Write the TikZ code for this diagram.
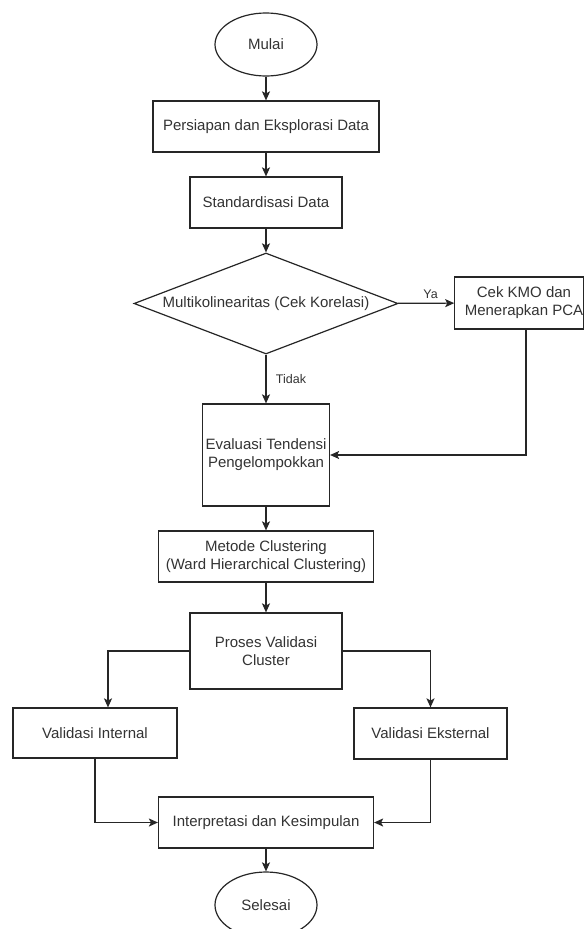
\documentclass[tikz,border=0pt]{standalone}
\usepackage{fontspec}
\setmainfont{Liberation Sans}
\usetikzlibrary{shapes.geometric,arrows.meta}
\begin{document}
\begin{tikzpicture}[x=1pt,y=-1pt,
  every node/.style={font=\fontsize{15}{18}\selectfont, text=black!80},
  box/.style={draw=black!85, line width=1.2pt, rectangle, align=center, inner sep=0pt},
  term/.style={draw=black!85, line width=1.2pt, ellipse, inner sep=0pt, minimum width=102pt, minimum height=63pt},
  dec/.style={draw=black!85, line width=1.2pt, diamond, aspect=2.6, inner sep=0pt, minimum width=264pt, minimum height=101pt},
  conn/.style={draw=black!85, line width=1.2pt, -{Stealth[length=9pt,width=8pt,inset=2pt]}},
  lbl/.style={font=\fontsize{12.5}{15}\selectfont}
]
\useasboundingbox (0,0) rectangle (584,929);
\clip (0,0) rectangle (584,929);
\fill[white] (0,0) rectangle (584,929);

\node[term] (mulai) at (266,44.5) {Mulai};
\node[box, minimum width=226pt, minimum height=51pt] (prep) at (266,126.5) {Persiapan dan Eksplorasi Data};
\node[box, minimum width=152pt, minimum height=51pt] (std) at (266,202.5) {Standardisasi Data};
\node[dec] (multi) at (266,303.5) {Multikolinearitas (Cek Korelasi)};
\node[box, minimum width=128pt, minimum height=52pt] (pca) at (519,303) {\hspace*{10pt}Cek KMO dan\\\hspace*{10pt}Menerapkan PCA};
\node[box, minimum width=127pt, minimum height=102pt] (eval) at (266,455) {Evaluasi Tendensi\\Pengelompokkan};
\node[box, minimum width=215pt, minimum height=51pt] (metode) at (266,556.5) {Metode Clustering\\(Ward Hierarchical Clustering)};
\node[box, minimum width=152pt, minimum height=76pt] (proses) at (266,651) {Proses Validasi\\Cluster};
\node[box, minimum width=164pt, minimum height=50pt] (intern) at (95,733) {Validasi Internal};
\node[box, minimum width=153pt, minimum height=51pt] (ekstern) at (430.5,733.5) {Validasi Eksternal};
\node[box, minimum width=215pt, minimum height=51pt] (interp) at (266,822.5) {Interpretasi dan Kesimpulan};
\node[term, minimum height=66pt] (selesai) at (266,905) {Selesai};

\draw[conn] (mulai) -- (prep);
\draw[conn] (prep) -- (std);
\draw[conn] (std) -- (multi);
\draw[conn] (multi) -- node[lbl, above=1pt, pos=0.58] {Ya} (pca);
\draw[conn] (multi) -- node[lbl, right=6pt, pos=0.5] {Tidak} (eval);
\draw[conn] ([xshift=7pt]pca.south) |- (eval.east);
\draw[conn] (eval) -- (metode);
\draw[conn] (metode) -- (proses);
\draw[conn] (proses.west) -| ([xshift=13pt]intern.north);
\draw[conn] (proses.east) -| (ekstern.north);
\draw[conn] (intern.south) |- (interp.west);
\draw[conn] (ekstern.south) |- (interp.east);
\draw[conn] (interp) -- (selesai);
\end{tikzpicture}
\end{document}
